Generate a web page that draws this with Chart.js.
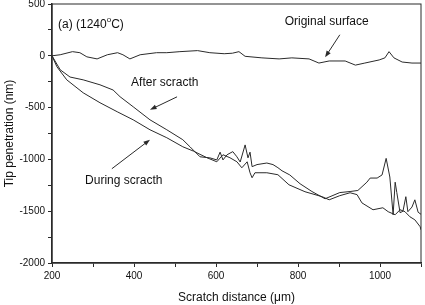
<!DOCTYPE html>
<html>
<head>
<meta charset="utf-8">
<script src="https://cdn.jsdelivr.net/npm/chart.js@4.4.1/dist/chart.umd.min.js"></script>
<style>
  html, body { margin: 0; padding: 0; background: #fff; }
  #wrap { width: 425px; height: 305px; position: relative; }
</style>
</head>
<body>
<div id="wrap"><canvas id="chart"></canvas></div>
<script>
/* global Chart */
(() => {
  "use strict";

  // scratch distance (um) / penetration (nm)
  const xOriginal = [200, 220, 250, 268, 285, 310, 335, 360, 373, 390, 415, 455, 480, 512, 555, 585, 620, 640, 656, 671, 712, 754, 785, 827, 851, 876, 915, 940, 963, 998, 1012, 1022, 1034, 1054, 1078, 1100];
  const yOriginal = [0, 10, 40, 30, -10, -30, 10, 30, 10, -30, 10, 30, 30, 40, 50, 30, 20, 25, 40, -5, -20, -30, -20, -30, -70, -50, -50, -90, -70, -40, -20, 40, -20, -60, -70, -70];

  const xAfter = [200, 220, 244, 276, 317, 349, 366, 398, 439, 480, 519, 537, 561, 585, 602, 610, 617, 627, 641, 651, 659, 671, 678, 683, 688, 700, 724, 739, 751, 761, 780, 805, 834, 866, 902, 927, 946, 968, 976, 993, 1005, 1015, 1024, 1032, 1037, 1041, 1049, 1056, 1063, 1068, 1078, 1085, 1093, 1100];
  const yAfter = [0, -135, -205, -232, -280, -330, -395, -492, -618, -714, -810, -880, -975, -985, -1005, -930, -1005, -955, -925, -975, -1025, -860, -985, -930, -1070, -1050, -1035, -1050, -1080, -1110, -1150, -1235, -1310, -1380, -1320, -1310, -1300, -1220, -1180, -1180, -1150, -990, -1170, -1535, -1220, -1320, -1515, -1500, -1360, -1505, -1460, -1390, -1510, -1530];

  const xDuring = [200, 212, 236, 276, 317, 359, 398, 439, 480, 519, 545, 578, 602, 617, 634, 651, 663, 676, 683, 688, 695, 724, 751, 778, 817, 859, 876, 902, 927, 944, 956, 983, 1007, 1020, 1037, 1049, 1061, 1073, 1085, 1098, 1100];
  const yDuring = [0, -106, -232, -357, -453, -540, -618, -714, -791, -878, -920, -984, -1023, -955, -984, -1023, -1081, -1023, -1129, -1177, -1129, -1129, -1148, -1245, -1312, -1360, -1390, -1350, -1322, -1340, -1420, -1486, -1467, -1505, -1534, -1486, -1505, -1554, -1583, -1650, -1680];

  const xMajor = [200, 400, 600, 800, 1000];
  const yMajor = [500, 0, -500, -1000, -1500, -2000];

  // annotations, in data units
  const noteText = ["Original surface", "After scracth", "During scracth"];
  const noteX = [870, 475, 375];
  const noteY = [325, -260, -1205];
  const arrowFrom = [[902, 203], [505, -396], [346, -1090]];
  const arrowTo = [[866, -15], [439, -521], [439, -810]];

  const INK = "#2a2a2a";
  const FONT = "Liberation Sans, Arial, sans-serif";

  const toPts = (xs, ys) => xs.map((x, i) => ({ x, y: ys[i] }));

  const lineSet = (data) => ({
    data,
    borderColor: INK,
    borderWidth: 1,
    pointRadius: 0,
    tension: 0,
    fill: false
  });

  const framePlugin = {
    id: "frame",
    afterDraw(chart) {
      const { ctx, chartArea: a, scales } = chart;
      const sx = scales.x, sy = scales.y;
      ctx.save();
      ctx.strokeStyle = INK;
      ctx.lineWidth = 1;
      ctx.strokeRect(a.left, a.top, a.right - a.left, a.bottom - a.top);

      // heading with superscript degree
      ctx.fillStyle = "#111";
      ctx.textBaseline = "alphabetic";
      ctx.textAlign = "left";
      ctx.font = `12px ${FONT}`;
      let px = a.left + 6, py = a.top + 24;
      ctx.fillText("(a) (1240", px, py);
      px += ctx.measureText("(a) (1240").width;
      ctx.font = `8px ${FONT}`;
      ctx.fillText("o", px, py - 6);
      px += ctx.measureText("o").width;
      ctx.font = `12px ${FONT}`;
      ctx.fillText("C)", px, py);

      ctx.textAlign = "center";
      ctx.textBaseline = "middle";
      noteText.forEach((t, i) => {
        ctx.fillText(t, sx.getPixelForValue(noteX[i]), sy.getPixelForValue(noteY[i]));
      });

      ctx.strokeStyle = INK;
      ctx.fillStyle = INK;
      arrowFrom.forEach((f, i) => {
        const x1 = sx.getPixelForValue(f[0]), y1 = sy.getPixelForValue(f[1]);
        const x2 = sx.getPixelForValue(arrowTo[i][0]), y2 = sy.getPixelForValue(arrowTo[i][1]);
        const ang = Math.atan2(y2 - y1, x2 - x1);
        ctx.beginPath();
        ctx.moveTo(x1, y1);
        ctx.lineTo(x2 - 4 * Math.cos(ang), y2 - 4 * Math.sin(ang));
        ctx.stroke();
        ctx.beginPath();
        ctx.moveTo(x2, y2);
        ctx.lineTo(x2 - 7 * Math.cos(ang - 0.35), y2 - 7 * Math.sin(ang - 0.35));
        ctx.lineTo(x2 - 7 * Math.cos(ang + 0.35), y2 - 7 * Math.sin(ang + 0.35));
        ctx.closePath();
        ctx.fill();
      });
      ctx.restore();
    }
  };

  new Chart(document.getElementById("chart"), {
    type: "line",
    data: {
      datasets: [
        lineSet(toPts(xOriginal, yOriginal)),
        lineSet(toPts(xAfter, yAfter)),
        lineSet(toPts(xDuring, yDuring))
      ]
    },
    options: {
      responsive: true,
      maintainAspectRatio: false,
      animation: false,
      events: [],
      layout: { padding: { top: 4, right: 4, left: 0, bottom: 0 } },
      plugins: { legend: { display: false }, tooltip: { enabled: false } },
      scales: {
        x: {
          type: "linear",
          min: 200,
          max: 1100,
          afterFit: (s) => { s.height = 42; s.paddingRight = 0; },
          ticks: {
            stepSize: 100,
            autoSkip: false,
            maxRotation: 0,
            padding: 3,
            color: "#111",
            font: { family: FONT, size: 10 },
            callback: (v) => xMajor.includes(v) ? String(v) : ""
          },
          grid: { drawOnChartArea: false, drawTicks: true, tickLength: 4, tickColor: INK },
          border: { color: INK, width: 1.5 },
          title: {
            display: true,
            text: "Scratch distance (\u03bcm)",
            color: "#111",
            font: { family: FONT, size: 12 },
            padding: { top: 2, bottom: 0 }
          }
        },
        y: {
          type: "linear",
          min: -2000,
          max: 500,
          afterFit: (s) => { s.width = 52; s.paddingTop = 0; },
          ticks: {
            stepSize: 250,
            autoSkip: false,
            padding: 3,
            color: "#111",
            font: { family: FONT, size: 10 },
            callback: (v) => yMajor.includes(v) ? String(v) : ""
          },
          grid: { drawOnChartArea: false, drawTicks: true, tickLength: 4, tickColor: INK },
          border: { color: INK, width: 1.5 },
          title: {
            display: true,
            text: "Tip penetration (nm)",
            color: "#111",
            font: { family: FONT, size: 12 },
            padding: { top: 2, bottom: 2 }
          }
        }
      }
    },
    plugins: [framePlugin]
  });
})();
</script>
</body>
</html>
